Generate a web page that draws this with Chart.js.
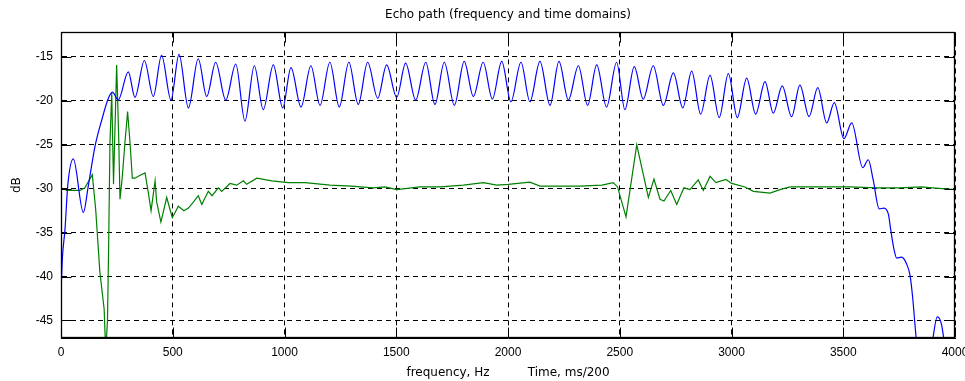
<!DOCTYPE html>
<html>
<head>
<meta charset="utf-8">
<title>Echo path</title>
<script src="https://cdn.jsdelivr.net/npm/chart.js@4.4.1/dist/chart.umd.min.js"></script>
<style>
  html, body { margin: 0; padding: 0; background: #fff; }
  #grafico-eco { display: block; }
</style>
</head>
<body>
<canvas id="grafico-eco" width="965" height="381"></canvas>
<script>
// Respuesta en frecuencia (azul): Hz / dB
var freqHz = [0, 6, 18, 30, 55, 100, 122, 152, 182, 212, 230, 256, 301, 331, 373,
    413, 450, 492, 528, 570, 614, 652, 692, 737, 782, 823, 865, 905, 950, 992,
    1029, 1074, 1118, 1159, 1203, 1245, 1288, 1330, 1372, 1417, 1457, 1502, 1542, 1587, 1632,
    1673, 1715, 1760, 1804, 1845, 1889, 1930, 1972, 2013, 2058, 2098, 2143, 2188, 2228, 2270,
    2315, 2356, 2397, 2441, 2486, 2523, 2565, 2605, 2650, 2695, 2740, 2782, 2822, 2862, 2904,
    2945, 2986, 3026, 3068, 3108, 3150, 3187, 3227, 3269, 3306, 3347, 3386, 3426, 3460, 3503,
    3538, 3587, 3612, 3634, 3661, 3682, 3702, 3712, 3727, 3739, 3761, 3784, 3799, 3811, 3821,
    3830, 3860, 3895, 3921, 3940, 3955, 3985];
var respDb = [-42, -38, -34.6, -29.7, -26.6, -32.7, -29.7, -25.2, -22.2, -19.7, -19.0, -19.9, -16.7, -19.6, -15.4,
    -19.5, -14.8, -19.9, -14.7, -20.8, -15.2, -19.5, -15.6, -19.9, -15.8, -22.3, -16.0, -21.0, -15.9, -20.8,
    -16.2, -20.7, -16.0, -20.5, -15.6, -20.7, -15.6, -20.4, -15.6, -19.7, -15.9, -19.6, -15.7, -19.9, -15.6,
    -20.4, -15.6, -20.5, -15.5, -19.5, -15.6, -19.8, -15.5, -20.1, -15.6, -20.1, -15.5, -20.5, -15.5, -19.9,
    -16.0, -20.5, -15.9, -20.7, -15.6, -21.0, -16.1, -19.8, -16.0, -20.5, -16.8, -20.8, -16.6, -21.5, -17.1,
    -21.9, -16.9, -21.9, -17.4, -21.5, -17.8, -21.4, -18.3, -21.8, -18.2, -21.8, -18.5, -22.5, -20.2, -24.3,
    -22.5, -27.6, -26.7, -29.0, -32.3, -32.2, -32.9, -34.6, -36.9, -37.9, -37.8, -38.6, -39.9, -42.5, -45.5,
    -48, -52, -48, -44.6, -45.5, -48, -52];

// Respuesta al impulso (verde): ms/200 / dB
var tiempo = [21, 85, 107, 140, 155, 174, 193, 200, 208, 213, 219, 227, 235, 249, 258,
    264, 273, 286, 298, 309, 319, 331, 352, 376, 391, 403, 421, 428, 447, 473,
    498, 525, 550, 570, 593, 614, 630, 659, 676, 704, 719, 756, 786, 816, 831,
    876, 943, 1017, 1092, 1204, 1300, 1397, 1450, 1502, 1606, 1696, 1800, 1890, 1950, 2001,
    2098, 2143, 2250, 2322, 2420, 2471, 2490, 2528, 2576, 2628, 2653, 2680, 2698, 2728, 2755,
    2787, 2814, 2851, 2874, 2904, 2930, 2975, 3001, 3060, 3098, 3172, 3217, 3262, 3321, 3430,
    3530, 3650, 3754, 3850, 3900, 4000];
var impulsoDb = [-30.2, -30.2, -29.9, -28.4, -32.3, -39.5, -43.7, -48.5, -45, -36.9, -24.8, -19.1, -29.5, -15.9, -24,
    -31.2, -29.0, -24.8, -21.2, -24.8, -28.8, -28.8, -28.5, -28.2, -30.5, -32.5, -29.1, -31.5, -33.8, -31.0,
    -33.3, -32.0, -32.5, -32.2, -31.5, -30.8, -31.8, -30.3, -30.8, -29.9, -30.3, -29.4, -29.6, -29.1, -29.5,
    -28.8, -29.1, -29.3, -29.3, -29.6, -29.7, -29.9, -29.8, -30.1, -29.8, -29.8, -29.6, -29.3, -29.6, -29.5,
    -29.25, -29.7, -29.7, -29.7, -29.6, -29.3, -29.8, -33.2, -25.0, -31.0, -28.9, -31.2, -31.4, -30.2, -31.8,
    -29.9, -30.1, -29.0, -30.2, -28.6, -29.3, -28.95, -29.4, -29.8, -30.3, -30.5, -30.1, -29.8, -29.8, -29.8,
    -29.8, -29.9, -29.9, -29.8, -29.9, -30.1];

var xTicks = [0, 500, 1000, 1500, 2000, 2500, 3000, 3500, 4000];
var yTicks = [-45, -40, -35, -30, -25, -20, -15];

(function () {
    'use strict';

    var fuenteTexto = '"DejaVu Sans", Verdana, sans-serif';

    function puntos(xs, ys) {
        return xs.map(function (x, i) { return { x: x, y: ys[i] }; });
    }

    // Caja de ejes y marcas hacia dentro en los cuatro lados
    var marcoEjes = {
        id: 'marcoEjes',
        afterDatasetsDraw: function (chart) {
            var ctx = chart.ctx;
            var a = chart.chartArea;
            var sx = chart.scales.x, sy = chart.scales.y;
            var l = Math.round(a.left) + 0.5, r = Math.round(a.right) - 0.5;
            var t = Math.round(a.top) + 0.5, b = Math.round(a.bottom) - 0.5;
            var largo = 10;
            ctx.save();
            ctx.strokeStyle = '#000';
            ctx.lineWidth = 1;
            ctx.setLineDash([]);
            ctx.beginPath();
            xTicks.forEach(function (v) {
                var px = Math.round(sx.getPixelForValue(v)) + 0.5;
                ctx.moveTo(px, b); ctx.lineTo(px, b - largo);
                ctx.moveTo(px, t); ctx.lineTo(px, t + largo);
            });
            yTicks.forEach(function (v) {
                var py = Math.round(sy.getPixelForValue(v)) + 0.5;
                ctx.moveTo(l, py); ctx.lineTo(l + largo, py);
                ctx.moveTo(r, py); ctx.lineTo(r - largo, py);
            });
            ctx.stroke();
            ctx.lineWidth = 1.3;
            ctx.strokeRect(l, t, r - l, b - t);
            ctx.restore();
        }
    };

    Chart.defaults.font.family = '"Liberation Sans", Arial, Helvetica, sans-serif';
    Chart.defaults.font.size = 12;
    Chart.defaults.color = '#000';

    var canvas = document.getElementById('grafico-eco');
    new Chart(canvas.getContext('2d'), {
        type: 'line',
        data: {
            datasets: [{
                label: 'frecuencia',
                data: puntos(freqHz, respDb),
                borderColor: '#0000ff',
                borderWidth: 1.2,
                pointRadius: 0,
                cubicInterpolationMode: 'monotone',
                fill: false
            }, {
                label: 'tiempo',
                data: puntos(tiempo, impulsoDb),
                borderColor: '#008000',
                borderWidth: 1.2,
                pointRadius: 0,
                tension: 0,
                fill: false
            }]
        },
        options: {
            responsive: false,
            animation: false,
            layout: { padding: { right: 10 } },
            plugins: {
                legend: { display: false },
                tooltip: { enabled: false },
                title: {
                    display: true,
                    fullSize: false,
                    text: 'Echo path (frequency and time domains)',
                    font: { family: fuenteTexto, size: 12, weight: 'normal' },
                    padding: { top: 8, bottom: 10 }
                }
            },
            scales: {
                x: {
                    type: 'linear',
                    min: 0,
                    max: 4000,
                    afterBuildTicks: function (scale) {
                        scale.ticks = xTicks.map(function (v) { return { value: v }; });
                    },
                    afterFit: function (scale) {
                        scale.height = 43;
                        scale.paddingLeft = 0;
                        scale.paddingRight = 0;
                    },
                    ticks: {
                        padding: 7,
                        maxRotation: 0,
                        autoSkip: false,
                        callback: function (v) { return String(v); }
                    },
                    grid: { color: '#000', lineWidth: 1, drawTicks: false },
                    border: { display: true, color: '#000', dash: [5, 4] },
                    title: {
                        display: true,
                        text: 'frequency, Hz          Time, ms/200',
                        font: { family: fuenteTexto, size: 12 },
                        padding: { top: 0, bottom: 1 }
                    }
                },
                y: {
                    type: 'linear',
                    min: -47,
                    max: -12.2,
                    afterBuildTicks: function (scale) {
                        scale.ticks = yTicks.map(function (v) { return { value: v }; });
                    },
                    afterFit: function (scale) {
                        scale.width = 61;
                        scale.paddingTop = 0;
                        scale.paddingBottom = 0;
                    },
                    ticks: {
                        padding: 8,
                        autoSkip: false,
                        callback: function (v) { return String(v); }
                    },
                    grid: { color: '#000', lineWidth: 1, drawTicks: false },
                    border: { display: true, color: '#000', dash: [5, 4] },
                    title: {
                        display: true,
                        text: 'dB',
                        font: { family: fuenteTexto, size: 12 },
                        padding: { top: 10, bottom: 0 }
                    }
                }
            }
        },
        plugins: [marcoEjes]
    });
})();
</script>
</body>
</html>
